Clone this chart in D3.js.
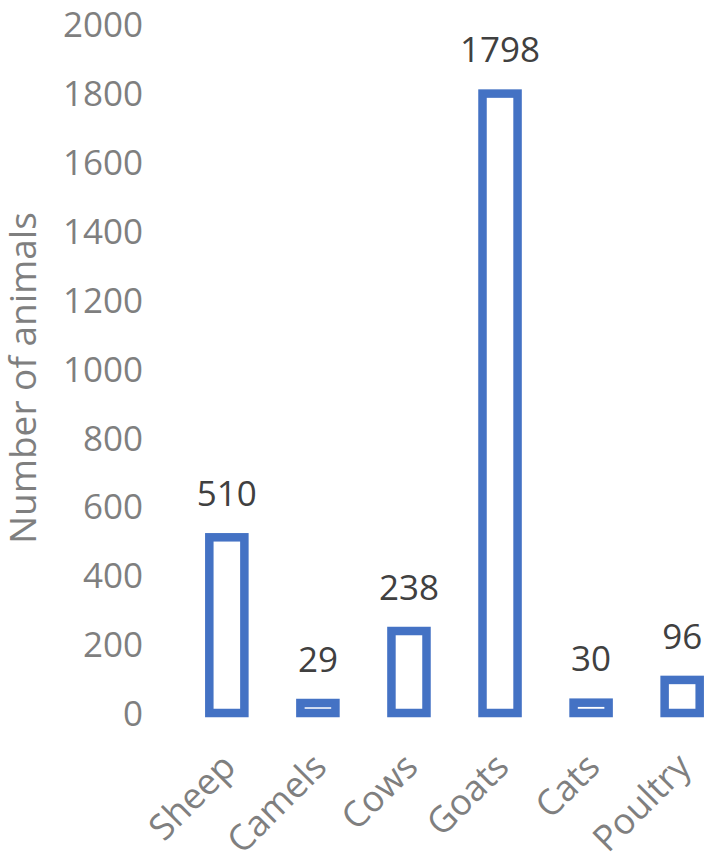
<!DOCTYPE html>
<html lang="en">
<head>
    <meta charset="utf-8" />
    <title>Number of animals</title>
    <script src="https://d3js.org/d3.v7.min.js"></script>
    <style>
        body {
            margin: 0;
            padding: 0;
            background: white;
        }
        svg text {
            font-family: "Open Sans", sans-serif;
        }
    </style>
</head>
<body>
<svg id="chart"></svg>
<script>
    var w = 711;
    var h = 858;

    // Data
    var categories = ["Sheep", "Camels", "Cows", "Goats", "Cats", "Poultry"];
    var values = [510, 29, 238, 1798, 30, 96];
    var yTicks = [0, 200, 400, 600, 800, 1000, 1200, 1400, 1600, 1800, 2000];

    var svg = d3.select("#chart")
                .attr("width", w)
                .attr("height", h);

    // x positions of bar bands
    var xScale = d3.scaleBand()
                .domain(categories)
                .range([182, 727])
                .paddingInner(0.615)
                .paddingOuter(0.3);

    var yScale = d3.scaleLinear()
                .domain([0, 2000])
                .range([713, 24]);

    // y axis, labels only (no commas)
    var yAxis = d3.axisLeft(yScale)
                .tickValues(yTicks)
                .tickFormat(d3.format("d"))
                .tickSize(0)
                .tickPadding(0);

    var gy = svg.append("g")
                .attr("transform", "translate(143,0)")
                .call(yAxis);
    gy.select(".domain").remove();
    gy.selectAll("text")
        .attr("font-family", "'Open Sans', sans-serif")
        .attr("font-size", "35px")
        .attr("fill", "#7f7f7f")
        .attr("dy", "0.36em");

    // axis title
    svg.append("text")
        .attr("transform", "translate(36,378) rotate(-90)")
        .attr("text-anchor", "middle")
        .attr("font-size", "37px")
        .attr("fill", "#7f7f7f")
        .text("Number of animals");

    // bars (outlined)
    var sw = 8.5;
    svg.selectAll("rect.bar")
        .data(values)
        .enter().append("rect")
        .attr("class", "bar")
        .attr("x", function(d, i) { return xScale(categories[i]); })
        .attr("y", function(d) { return yScale(d); })
        .attr("width", xScale.bandwidth())
        .attr("height", function(d) { return yScale(0) - yScale(d); })
        .attr("fill", "white")
        .attr("stroke", "#4472c4")
        .attr("stroke-width", sw);

    // value labels
    svg.selectAll("text.val")
        .data(values)
        .enter().append("text")
        .attr("class", "val")
        .attr("x", function(d, i) { return xScale(categories[i]) + xScale.bandwidth() / 2; })
        .attr("y", function(d) { return yScale(d) - sw / 2 - 27; })
        .attr("text-anchor", "middle")
        .attr("font-size", "35px")
        .attr("fill", "#404040")
        .text(function(d) { return d; });

    // x category labels, rotated
    svg.selectAll("text.cat")
        .data(categories)
        .enter().append("text")
        .attr("class", "cat")
        .attr("transform", function(d) {
            var cx = xScale(d) + xScale.bandwidth() / 2 - 7;
            return "translate(" + cx + ",751) rotate(-45)";
        })
        .attr("text-anchor", "end")
        .attr("dy", "0.7em")
        .attr("font-size", "36px")
        .attr("fill", "#7f7f7f")
        .text(function(d) { return d; });
</script>
</body>
</html>
